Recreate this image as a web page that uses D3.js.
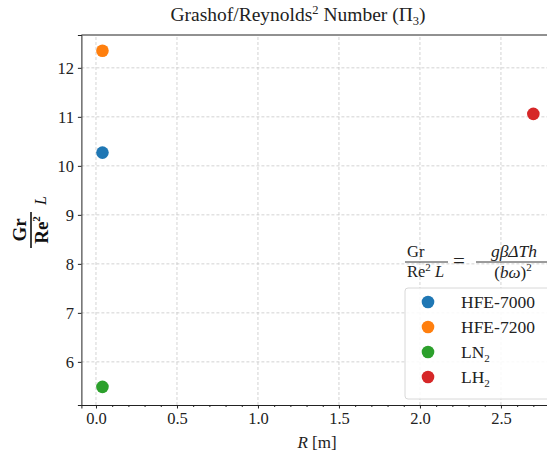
<!DOCTYPE html>
<html lang="en">
<head>
<meta charset="UTF-8">
<title>Grashof/Reynolds2 Number</title>
<script src="https://d3js.org/d3.v7.min.js"></script>
<style>
    body, html { margin: 0; padding: 0; background: #fff; overflow: hidden; }
    svg { display: block; font-family: "Liberation Serif", "DejaVu Serif", serif; }
    .axis text { font-family: "Liberation Serif", serif; font-size: 16.5px; fill: #222; }
</style>
</head>
<body>
<div id="chart"></div>
<script>
    // data
    const fluids = ["HFE-7000", "HFE-7200", "LN2", "LH2"];
    const radius = [0.04, 0.04, 0.04, 2.70];
    const grRe2 = [10.27, 12.35, 5.49, 11.06];
    const colors = ["#1f77b4", "#ff7f0e", "#2ca02c", "#d62728"];
    const xTicks = [0, 0.5, 1.0, 1.5, 2.0, 2.5];
    const yTicks = [6, 7, 8, 9, 10, 11, 12];

    const width = 547, height = 452;
    const svg = d3.select("#chart").append("svg")
        .attr("width", width).attr("height", height);

    const x = d3.scaleLinear().domain([-0.09, 2.83]).range([81.4, 554.4]);
    const y = d3.scaleLinear().domain([5.12, 12.67]).range([405, 35]);

    // grid
    svg.append("g").selectAll("line").data(xTicks).join("line")
        .attr("x1", d => x(d)).attr("x2", d => x(d))
        .attr("y1", y.range()[0]).attr("y2", y.range()[1])
        .attr("stroke", "#c8c8c8").attr("stroke-width", 0.8)
        .attr("stroke-dasharray", "3,2");
    svg.append("g").selectAll("line").data(yTicks).join("line")
        .attr("x1", x.range()[0]).attr("x2", x.range()[1])
        .attr("y1", d => y(d)).attr("y2", d => y(d))
        .attr("stroke", "#c8c8c8").attr("stroke-width", 0.8)
        .attr("stroke-dasharray", "3,2");

    // axes
    svg.append("g").attr("class", "axis")
        .attr("transform", `translate(0,${y.range()[0]})`)
        .call(d3.axisBottom(x).tickValues(xTicks).tickFormat(d3.format(".1f"))
            .tickSize(3.5).tickPadding(4))
        .attr("font-family", "Liberation Serif").attr("font-size", 16.5);
    // minor ticks
    svg.append("g")
        .attr("transform", `translate(0,${y.range()[0]})`)
        .call(d3.axisBottom(x).tickValues(d3.range(0, 28).map(i => i / 10)
            .filter(v => Math.abs(v * 2 - Math.round(v * 2)) > 1e-6))
            .tickFormat("").tickSize(2))
        .select(".domain").remove();
    svg.append("g").attr("class", "axis")
        .attr("transform", `translate(${x.range()[0]},0)`)
        .call(d3.axisLeft(y).tickValues(yTicks).tickSize(3.5).tickPadding(4))
        .attr("font-family", "Liberation Serif").attr("font-size", 16.5);

    svg.selectAll(".domain, .tick line").attr("stroke", "#222");
    // top border
    svg.append("line")
        .attr("x1", x.range()[0]).attr("x2", width)
        .attr("y1", y.range()[1]).attr("y2", y.range()[1])
        .attr("stroke", "#222");

    // points
    svg.append("g").selectAll("circle").data(fluids).join("circle")
        .attr("cx", (d, i) => x(radius[i]))
        .attr("cy", (d, i) => y(grRe2[i]))
        .attr("r", 6.3)
        .attr("fill", (d, i) => colors[i]);

    // title
    const title = svg.append("text")
        .attr("x", 298).attr("y", 21)
        .attr("text-anchor", "middle").attr("font-size", 19.5).attr("fill", "#222");
    title.append("tspan").text("Grashof/Reynolds");
    title.append("tspan").attr("dy", -7).attr("font-size", 12.5).text("2");
    title.append("tspan").attr("dy", 7).text(" Number (\u03A0");
    title.append("tspan").attr("dy", 4).attr("font-size", 12.5).text("3");
    title.append("tspan").attr("dy", -4).text(")");

    // x label
    const xl = svg.append("text")
        .attr("x", 317).attr("y", 448)
        .attr("text-anchor", "middle").attr("font-size", 17).attr("fill", "#222");
    xl.append("tspan").attr("font-style", "italic").text("R");
    xl.append("tspan").text(" [m]");

    // y label (rotated fraction)
    const yl = svg.append("g").attr("transform", "translate(31,230) rotate(-90)")
        .attr("fill", "#111").attr("font-weight", "bold");
    yl.append("text").attr("x", 0).attr("y", -5).attr("text-anchor", "middle")
        .attr("font-size", 19).text("Gr");
    yl.append("line").attr("x1", -18).attr("x2", 18).attr("y1", 0).attr("y2", 0)
        .attr("stroke", "#111").attr("stroke-width", 1.6);
    const den = yl.append("text").attr("x", 0).attr("y", 17).attr("text-anchor", "middle")
        .attr("font-size", 19);
    den.append("tspan").text("Re");
    den.append("tspan").attr("dy", -8).attr("font-size", 11).text("2");
    yl.append("text").attr("x", 25).attr("y", 15).attr("font-size", 16)
        .attr("font-style", "italic").attr("font-weight", "normal").text("L");

    // formula above legend
    const fm = svg.append("g").attr("fill", "#222");
    fm.append("text").attr("x", 407).attr("y", 257)
        .attr("font-size", 16.5).text("Gr");
    fm.append("line").attr("x1", 405).attr("x2", 448).attr("y1", 262).attr("y2", 262)
        .attr("stroke", "#222").attr("stroke-width", 0.9);
    const fd = fm.append("text").attr("x", 407).attr("y", 277)
        .attr("font-size", 16.5);
    fd.append("tspan").text("Re");
    fd.append("tspan").attr("dy", -6).attr("font-size", 11).text("2");
    fd.append("tspan").attr("dy", 6).attr("font-style", "italic").text(" L");
    fm.append("text").attr("x", 459).attr("y", 268).attr("text-anchor", "middle")
        .attr("font-size", 21).text("=");
    fm.append("text").attr("x", 514).attr("y", 257).attr("text-anchor", "middle")
        .attr("font-size", 17.5).attr("font-style", "italic").text("g\u03B2\u0394Th");
    fm.append("line").attr("x1", 476).attr("x2", 549).attr("y1", 262).attr("y2", 262)
        .attr("stroke", "#222").attr("stroke-width", 0.9);
    const rd = fm.append("text").attr("x", 513).attr("y", 278).attr("text-anchor", "middle")
        .attr("font-size", 17);
    rd.append("tspan").text("(");
    rd.append("tspan").attr("font-style", "italic").text("b\u03C9");
    rd.append("tspan").text(")");
    rd.append("tspan").attr("dy", -7).attr("font-size", 11).text("2");

    // legend
    const lg = svg.append("g");
    lg.append("rect").attr("x", 405).attr("y", 288).attr("width", 150).attr("height", 111)
        .attr("rx", 3).attr("fill", "#fff").attr("fill-opacity", 0.85)
        .attr("stroke", "#d8d8d8");
    const labels = [["HFE-7000"], ["HFE-7200"], ["LN", "2"], ["LH", "2"]];
    const items = lg.selectAll("g.item").data(fluids).join("g")
        .attr("class", "item")
        .attr("transform", (d, i) => `translate(0,${302 + i * 25})`);
    items.append("circle").attr("cx", 428).attr("cy", 0).attr("r", 6.3)
        .attr("fill", (d, i) => colors[i]);
    items.each(function (d, i) {
        const t = d3.select(this).append("text").attr("x", 461).attr("y", 6)
            .attr("font-size", 17.5).attr("fill", "#222");
        t.append("tspan").text(labels[i][0]);
        if (labels[i][1]) t.append("tspan").attr("dy", 4).attr("font-size", 11).text(labels[i][1]);
    });
</script>
</body>
</html>
